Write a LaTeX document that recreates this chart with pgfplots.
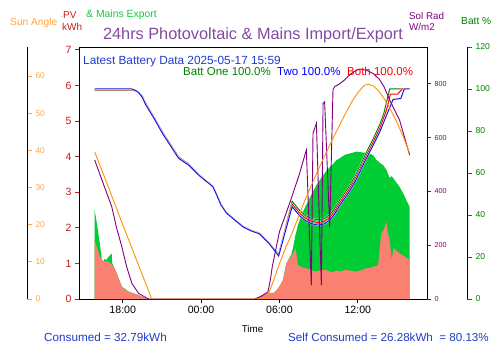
\documentclass[border=0pt]{standalone}
\usepackage{pgfplots}
\pgfplotsset{compat=1.18}
\usepackage{fontspec}
\setmainfont{Liberation Sans}
\definecolor{pvred}{RGB}{204,25,25}
\definecolor{sunline}{RGB}{255,145,0}
\definecolor{sunlabel}{RGB}{255,165,60}
\definecolor{solpurple}{RGB}{128,0,128}
\definecolor{titlepurple}{RGB}{130,75,160}
\definecolor{battgreen}{RGB}{0,128,0}
\definecolor{areagreen}{RGB}{0,204,51}
\definecolor{exportgreen}{RGB}{20,200,60}
\definecolor{salmonc}{RGB}{250,128,114}
\definecolor{textblue}{RGB}{30,60,200}
\definecolor{battblue}{RGB}{20,20,230}
\pgfplotsset{
  base/.style={scale only axis, width=348pt, height=252pt, at={(79pt,54pt)}, anchor=south west,
    xmin=-9.35, xmax=17.3, /pgf/number format/assume math mode=true},
}
\begin{document}
\begin{tikzpicture}
\useasboundingbox (0pt,0pt) rectangle (500pt,353pt);
% main PV axis
\begin{axis}[base, ymin=0, ymax=7.08,
  xtick={-6,0,6,12}, xticklabels={18:00,00:00,06:00,12:00},
  ytick={0,1,...,7},
  tick align=outside, xtick pos=bottom, ytick pos=left,
  major tick length=4pt,
  axis line style={black, line width=0.8pt},
  xtick style={black, line width=0.7pt},
  ytick style={pvred, line width=0.7pt},
  x tick label style={font=\fontsize{10.6}{12}\selectfont, black},
  y tick label style={font=\fontsize{10.5}{12}\selectfont, color=pvred},
]
\addplot[fill=areagreen, draw=none] table {
-8.15 2.50
-7.95 2.05
-7.75 1.55
-7.6 1.10
-7.5 1.05
-7.4 1.12
-7.25 1.10
-7.1 1.18
-6.95 1.24
-6.85 1.28
-6.8 1.00
-6.46 0.72
-6.07 0.35
-5.56 0.21
-4.79 0.11
-4.28 0.02
-4.0 0
4.3 0
4.5 0.08
5.0 0.15
5.63 0.18
6.0 0.35
6.27 0.53
6.53 1.00
6.9 1.25
7.05 1.45
7.2 1.75
7.4 2.05
7.55 2.22
7.8 2.45
8.06 2.65
8.4 2.9
8.83 3.2
9.1 3.35
9.59 3.6
10.0 3.75
10.36 3.9
10.6 3.95
11.0 4.05
11.5 4.1
11.9 4.14
12.3 4.12
12.7 4.1
13.0 4.07
13.2 4.03
13.4 3.92
13.7 3.82
13.95 3.76
14.2 3.62
14.44 3.40
14.6 3.45
14.8 3.35
15.0 3.25
15.2 3.15
15.5 2.95
15.75 2.75
15.97 2.59
} \closedcycle;
\addplot[fill=salmonc, draw=none] table {
-8.15 1.66
-7.95 1.42
-7.75 1.2
-7.6 1.10
-7.45 1.05
-7.3 1.07
-7.1 1.04
-6.9 1.0
-6.75 0.92
-6.6 0.85
-6.46 0.72
-6.3 0.55
-6.07 0.35
-5.8 0.26
-5.56 0.21
-5.2 0.15
-4.79 0.11
-4.5 0.06
-4.28 0.02
-4.0 0
4.3 0
4.5 0.08
5.0 0.15
5.63 0.18
5.9 0.3
6.27 0.53
6.53 1.0
6.8 1.15
7.03 1.28
7.24 1.42
7.42 0.95
7.8 0.88
8.2 0.85
8.5 0.8
8.83 0.77
9.2 0.82
9.6 0.81
10.0 0.75
10.4 0.80
10.7 0.77
11.0 0.82
11.4 0.80
11.8 0.77
12.2 0.80
12.6 0.86
13.0 0.88
13.3 0.92
13.55 0.95
13.7 1.5
13.81 1.85
14.0 1.95
14.19 2.17
14.3 1.85
14.45 1.66
14.6 1.1
14.72 1.42
14.9 1.38
15.2 1.28
15.6 1.19
15.97 1.10
} \closedcycle;
\end{axis}
% battery lines
\begin{axis}[base, ymin=0, ymax=120, hide axis]
\addplot[battgreen, line width=1pt, preaction={draw=white, line width=1.6pt}] table {
-8.15 99.3
-5.2 99.3
-4.9 98.8
-4.79 98.6
-4.5 96.6
-4.28 93.7
-3.9 89.7
-3.51 85.7
-3.2 82.2
-2.87 78.7
-2.5 75.2
-2.24 72.7
-1.72 67.7
-1.3 65.8
-0.96 64.3
-0.5 61.5
-0.19 59.4
0.3 56.8
0.9 53.8
1.2 49.8
1.5 45.3
1.93 41.3
2.5 38.3
3.2 34.7
3.8 32.8
4.48 31.3
5.2 26.8
5.94 21.3
6.97 46.5
7.3 44
7.6 41.8
8.0 39.7
8.5 38.3
8.95 37.7
9.4 38.2
9.85 40.1
10.2 42.7
10.6 47
11.0 50.5
11.38 54
11.8 58.5
12.15 63
12.6 69
13.2 76.5
13.68 83
14.0 88.5
14.44 100
15.97 100
};
\addplot[red, line width=1pt, preaction={draw=white, line width=1.6pt}] table {
-8.15 99.6
-5.25 99.6
-5.0 99.0
-4.79 98.4
-4.5 96.3
-4.28 93.3
-3.9 89.3
-3.51 85.3
-3.2 81.8
-2.87 78.3
-2.5 74.8
-2.24 72.3
-1.72 67.3
-1.3 65.5
-0.96 64.0
-0.5 61.2
-0.19 59.2
0.3 56.6
0.9 53.6
1.2 49.6
1.5 45.1
1.93 41.1
2.5 38.1
3.2 34.5
3.8 32.6
4.48 31.1
5.2 26.6
5.94 20.9
6.97 45.2
7.3 42.7
7.6 40.5
8.0 38.4
8.5 37
8.95 36.4
9.4 36.9
9.85 38.8
10.2 41.4
10.6 45.7
11.0 49.2
11.38 52.7
11.8 57.2
12.15 61.7
12.6 67.5
13.2 75
13.68 81.2
14.2 90
14.5 97.6
15.06 97.6
15.4 100
15.97 100
};
\addplot[battblue, line width=1pt, preaction={draw=white, line width=1.6pt}] table {
-8.15 100
-5.3 100
-5.0 99.3
-4.79 98.3
-4.5 96
-4.28 93
-3.9 89
-3.51 85
-3.2 81.5
-2.87 78
-2.5 74.5
-2.24 72
-1.72 67
-1.3 65.2
-0.96 63.8
-0.5 61
-0.19 59
0.3 56.5
0.9 53.5
1.2 49.5
1.5 45
1.93 41
2.5 38
3.2 34.4
3.8 32.5
4.48 31
5.2 26.5
5.94 20.5
6.97 44
7.3 41.5
7.6 39.3
8.0 37.2
8.5 35.8
8.95 35.2
9.4 35.7
9.85 37.6
10.2 40.2
10.6 44.5
11.0 48
11.38 51.5
11.8 56
12.15 60.5
12.6 66.3
13.2 73.5
13.68 79.5
14.2 87.5
14.7 95
15.3 95.5
15.55 100
15.97 100
};
\end{axis}
% sol rad axis
\begin{axis}[base, ymin=0, ymax=937,
  axis y line*=right, axis x line=none,
  ytick={0,200,...,800}, tick align=outside, major tick length=4pt,
  axis line style={black, line width=0.8pt},
  ytick style={solpurple, line width=0.7pt},
  y tick label style={font=\fontsize{7.2}{9}\selectfont, color=solpurple},
]
\addplot[solpurple, line width=0.9pt] table {
-8.15 517
-7.5 430
-6.84 343
-6.5 270
-6.07 194
-5.7 120
-5.3 58
-4.79 21
-4.15 3
-4.0 0
4.1 0
4.6 10
5.12 27
5.3 70
5.45 120
6.0 250
6.78 356
7.5 460
8.06 554
8.44 52
8.57 616
8.83 653
9.21 52
9.34 727
9.46 733
9.85 269
10.1 777
10.23 790
10.61 800
11.0 815
11.4 835
11.8 848
12.15 855
12.7 850
13.2 838
13.68 815
14.0 790
14.44 740
15.2 665
15.97 535
};
\end{axis}
% sun angle line
\begin{axis}[base, ymin=0, ymax=67.8, hide axis]
\addplot[sunline, line width=0.9pt] table {
-8.15 39.6
-7.0 29.2
-6.0 20.0
-5.0 11.0
-4.0 2.0
-3.8 0
5.0 0
5.5 4.5
6.0 9.5
6.5 14
7.0 18
7.5 22.5
8.0 27
8.5 31
9.0 35
9.5 38.8
10.0 42.5
10.5 46
11.0 49.5
11.5 52.8
12.0 55.5
12.5 57.5
12.8 57.8
13.2 57.3
13.6 56
14.0 54
14.5 51
15.0 47.5
15.5 43.5
15.97 39.2
};
\end{axis}
% sun angle spine
\begin{axis}[scale only axis, width=1pt, height=252pt, at={(26pt,54pt)}, anchor=south west,
  xmin=0, xmax=1, ymin=0, ymax=67.8,
  axis y line*=right, axis x line=none,
  ytick={0,10,...,60}, tick align=outside, major tick length=5pt,
  axis line style={black, line width=0.8pt},
  ytick style={sunlabel, line width=0.7pt},
  y tick label style={font=\fontsize{8.3}{10}\selectfont, color=sunlabel},
  /pgf/number format/assume math mode=true]
\end{axis}
% batt spine
\begin{axis}[scale only axis, width=1pt, height=252pt, at={(466pt,54pt)}, anchor=south west,
  xmin=0, xmax=1, ymin=0, ymax=120,
  axis y line*=right, axis x line=none,
  ytick={0,20,...,120}, tick align=outside, major tick length=5pt,
  axis line style={black, line width=0.8pt},
  ytick style={battgreen, line width=0.7pt},
  y tick label style={font=\fontsize{8.6}{10}\selectfont, color=battgreen},
  /pgf/number format/assume math mode=true]
\end{axis}
% texts
\node[anchor=base west, inner sep=0, text=sunlabel, font=\fontsize{10.2}{12}\selectfont] at (10pt,327pt) {Sun Angle};
\node[anchor=base west, inner sep=0, text=sunlabel, font=\fontsize{10}{12}\selectfont] at (60pt,335pt) {.};
\node[anchor=base west, inner sep=0, text=pvred, font=\fontsize{10}{12}\selectfont] at (63pt,334pt) {PV};
\node[anchor=base west, inner sep=0, text=pvred, font=\fontsize{10}{12}\selectfont] at (62pt,322pt) {kWh};
\node[anchor=base west, inner sep=0, text=exportgreen, font=\fontsize{10.4}{12}\selectfont] at (86pt,335pt) {\& Mains Export};
\node[anchor=base, inner sep=0, text=titlepurple, font=\fontsize{16.3}{19}\selectfont] at (253pt,313.7pt) {24hrs Photovoltaic \& Mains Import/Export};
\node[anchor=base west, inner sep=0, text=solpurple, font=\fontsize{9.8}{12}\selectfont] at (409pt,333.7pt) {Sol Rad};
\node[anchor=base west, inner sep=0, text=solpurple, font=\fontsize{9.8}{12}\selectfont] at (409pt,322.3pt) {W/m2};
\node[anchor=base west, inner sep=0, text=battgreen, font=\fontsize{10.2}{12}\selectfont] at (461pt,328pt) {Batt \%};
\node[anchor=base west, inner sep=0, text=textblue, font=\fontsize{11.8}{14}\selectfont] at (83pt,288pt) {Latest Battery Data 2025-05-17 15:59};
\node[anchor=base west, inner sep=0, text=battgreen, font=\fontsize{11.5}{14}\selectfont] at (183pt,277pt) {Batt One 100.0\%};
\node[anchor=base west, inner sep=0, text=blue, font=\fontsize{11.5}{14}\selectfont] at (277pt,277pt) {Two 100.0\%};
\node[anchor=base west, inner sep=0, text=red, font=\fontsize{11.5}{14}\selectfont] at (347pt,277pt) {Both 100.0\%};
\node[anchor=base, inner sep=0, text=black, font=\fontsize{9.8}{12}\selectfont] at (252.5pt,20.3pt) {Time};
\node[anchor=base west, inner sep=0, text=textblue, font=\fontsize{11.7}{14}\selectfont] at (44pt,11.3pt) {Consumed = 32.79kWh};
\node[anchor=base west, inner sep=0, text=textblue, font=\fontsize{11.6}{14}\selectfont] at (288pt,11.3pt) {Self Consumed = 26.28kWh\ \ = 80.13\%};
\end{tikzpicture}
\end{document}
